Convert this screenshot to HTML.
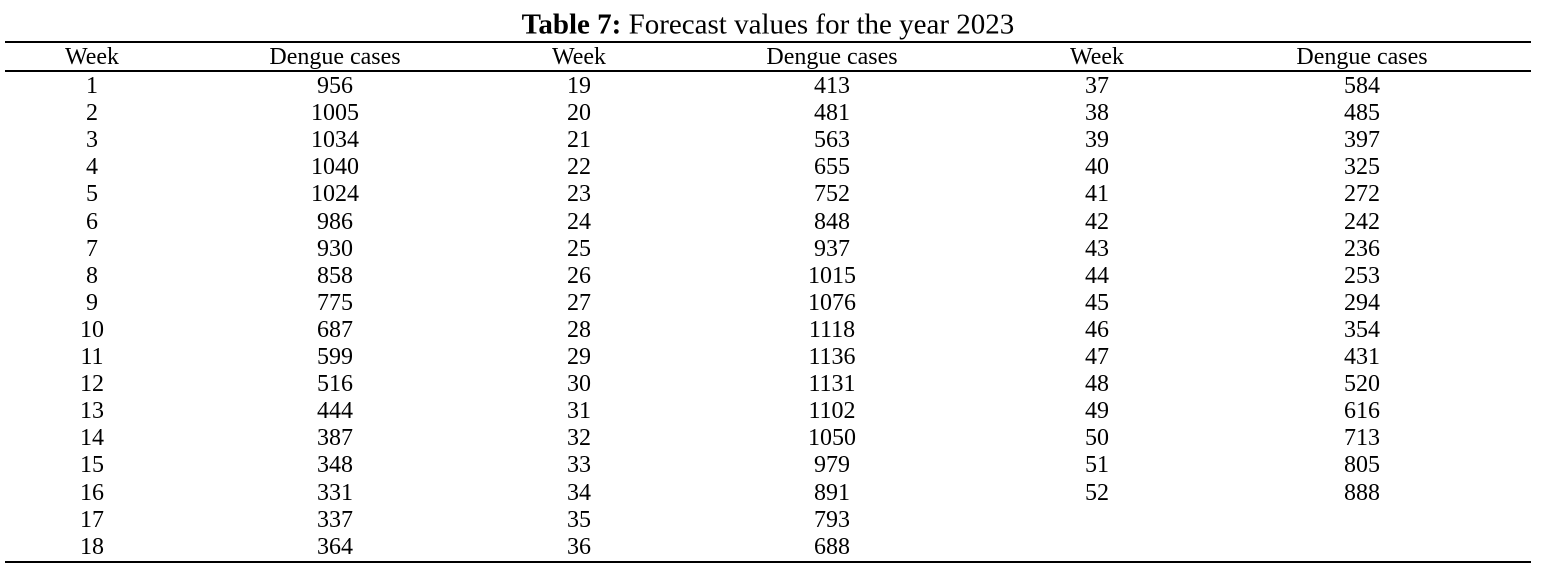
<!DOCTYPE html>
<html><head><meta charset="utf-8">
<style>
html,body{margin:0;padding:0;background:#fff;}
body{width:1542px;height:582px;position:relative;overflow:hidden;font-family:"Liberation Serif",serif;color:#000;}
.t{position:absolute;font-size:24px;line-height:26px;white-space:nowrap;transform:translate(-50%,-50%);}
.rule{position:absolute;left:5px;width:1526px;height:1.5px;background:#000;}
#title{position:absolute;left:768px;top:25px;transform:translate(-50%,-50%);font-size:29px;white-space:nowrap;}
</style></head>
<body>
<div id="title"><b>Table 7:</b> Forecast values for the year 2023</div>
<div class="rule" style="top:41px"></div>
<div class="rule" style="top:70px"></div>
<div class="rule" style="top:561px"></div>
<script>
const weeks1=[1,2,3,4,5,6,7,8,9,10,11,12,13,14,15,16,17,18];
const cases1=[956,1005,1034,1040,1024,986,930,858,775,687,599,516,444,387,348,331,337,364];
const weeks2=[19,20,21,22,23,24,25,26,27,28,29,30,31,32,33,34,35,36];
const cases2=[413,481,563,655,752,848,937,1015,1076,1118,1136,1131,1102,1050,979,891,793,688];
const weeks3=[37,38,39,40,41,42,43,44,45,46,47,48,49,50,51,52];
const cases3=[584,485,397,325,272,242,236,253,294,354,431,520,616,713,805,888];
const headers=["Week","Dengue cases","Week","Dengue cases","Week","Dengue cases"];
const colX=[92,335,579,832,1097,1362];
const cols=[weeks1,cases1,weeks2,cases2,weeks3,cases3];
function put(txt,x,y,name){
  const d=document.createElement('div');
  d.className='t';
  d.style.left=x+'px';d.style.top=y+'px';
  d.textContent=txt;
  
  
  document.body.appendChild(d);
}
headers.forEach((h,i)=>put(h,colX[i],57,'column-header'));
cols.forEach((arr,c)=>{
  arr.forEach((v,r)=>put(String(v),colX[c],86+r*27.1,(c%2===0?'week-cell':'cases-cell')));
});
</script>
</body></html>
